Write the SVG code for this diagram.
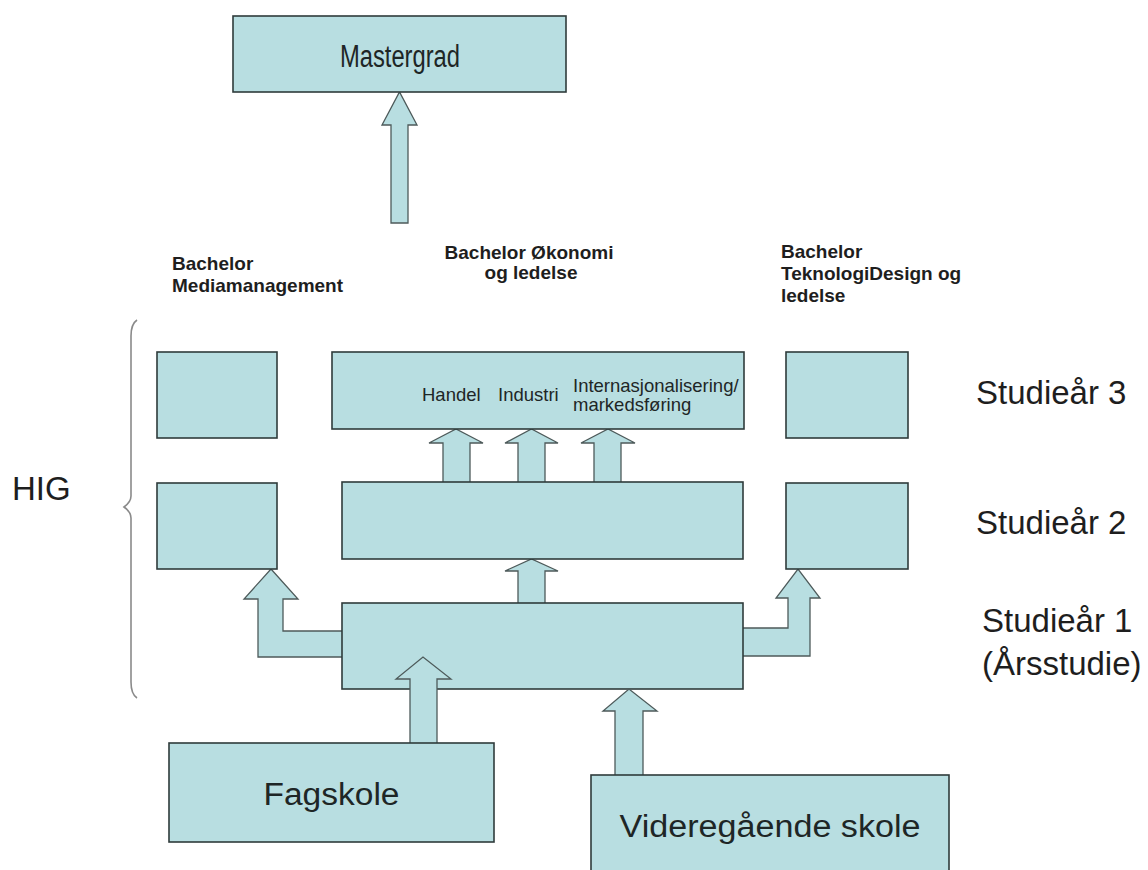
<svg xmlns="http://www.w3.org/2000/svg" width="1148" height="870" viewBox="0 0 1148 870">
<style>
.box{fill:#b8dee1;stroke:#2f3b3b;stroke-width:1.6}
.arr{fill:#b8dee1;stroke:#4d5a5a;stroke-width:1.3;stroke-linejoin:miter}
.big{font-family:"Liberation Sans",Arial,sans-serif;font-size:31px;fill:#1e2626}
.lab{font-family:"Liberation Sans",Arial,sans-serif;font-size:33px;fill:#1e1e1e}
.bold{font-family:"Liberation Sans",Arial,sans-serif;font-size:19px;font-weight:bold;fill:#1e1e1e}
.in{font-family:"Liberation Sans",Arial,sans-serif;font-size:18.5px;fill:#1e2626}
.brace{fill:none;stroke:#8a8a8a;stroke-width:1.6}
</style>
<rect width="1148" height="870" fill="#ffffff"/>

<g id="connectors-under">
<path class="arr" d="M342,631 H283 V599 H298 L271,569 L244,599 H258 V657 H342"/>
<path class="arr" d="M743,628 H788 V598 H776 L798,569 L820,598 H810 V656 H743"/>
<path class="arr" d="M391,223 V125 H382 L399.5,92 L417,125 H408 V223 Z"/>
<path class="arr" d="M443,482 V443 H429 L456,429 L483,443 H470 V482"/>
<path class="arr" d="M518,482 V443 H505 L531.5,429 L558,443 H545 V482"/>
<path class="arr" d="M594,482 V443 H581 L608,429 L635,443 H621 V482"/>
<path class="arr" d="M518,603 V571 H505 L531.5,559 L558,571 H545 V603"/>
</g>

<g id="mastergrad">
<rect class="box" x="233" y="16" width="333" height="76"/>
<text class="big" x="400" y="67" text-anchor="middle" font-size="32" textLength="120" lengthAdjust="spacingAndGlyphs">Mastergrad</text>
</g>

<g id="labels-bachelor">
<text class="bold" x="172" y="270">Bachelor</text>
<text class="bold" x="172" y="292">Mediamanagement</text>
<text class="bold" x="529" y="259" text-anchor="middle">Bachelor Økonomi</text>
<text class="bold" x="531" y="279" text-anchor="middle">og ledelse</text>
<text class="bold" x="781" y="258">Bachelor</text>
<text class="bold" x="781" y="280">TeknologiDesign og</text>
<text class="bold" x="781" y="302">ledelse</text>
</g>

<g id="mm-year3"><rect class="box" x="157" y="352" width="120" height="86"/></g>
<g id="mm-year2"><rect class="box" x="157" y="483" width="120" height="86"/></g>
<g id="tek-year3"><rect class="box" x="786" y="352" width="122" height="86"/></g>
<g id="tek-year2"><rect class="box" x="786" y="483" width="122" height="86"/></g>

<g id="okl-year3">
<rect class="box" x="332" y="352" width="412" height="77"/>
<text class="in" x="422" y="401">Handel</text>
<text class="in" x="498" y="401">Industri</text>
<text class="in" x="573" y="392">Internasjonalisering/</text>
<text class="in" x="573" y="411">markedsføring</text>
</g>
<g id="okl-year2"><rect class="box" x="342" y="482" width="401" height="77"/></g>
<g id="year1"><rect class="box" x="342" y="603" width="401" height="86"/></g>

<g id="connectors-over">
<path class="arr" d="M410,743 V679 H396 L423,657 L451,679 H437 V743"/>
<path class="arr" d="M615,775 V711 H603 L629,689 L657,711 H643 V775"/>
</g>

<g id="fagskole">
<rect class="box" x="169" y="743" width="325" height="99"/>
<text class="big" x="331.5" y="805" text-anchor="middle" font-size="30" textLength="136" lengthAdjust="spacingAndGlyphs">Fagskole</text>
</g>
<g id="videregaende">
<rect class="box" x="591" y="775" width="358" height="110"/>
<text class="big" x="770" y="837" text-anchor="middle" font-size="30" textLength="301" lengthAdjust="spacingAndGlyphs">Videregående skole</text>
</g>

<g id="hig">
<path class="brace" d="M137,320 Q131,324 131,336 V496 Q131,502 124,507 Q131,512 131,518 V682 Q131,694 137,698"/>
<text class="lab" x="12" y="500">HIG</text>
</g>

<g id="years">
<text class="lab" x="976" y="404">Studieår 3</text>
<text class="lab" x="976" y="534">Studieår 2</text>
<text class="lab" x="982" y="632">Studieår 1</text>
<text class="lab" x="982" y="675">(Årsstudie)</text>
</g>
</svg>
